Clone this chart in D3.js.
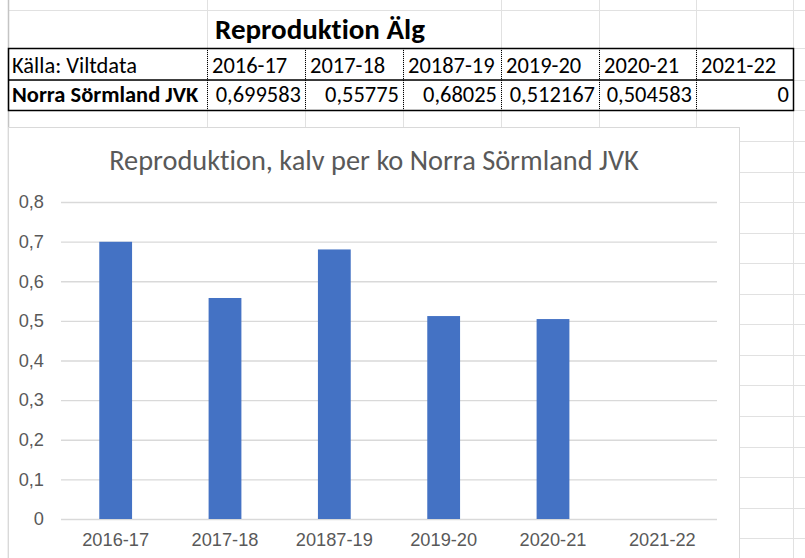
<!DOCTYPE html>
<html>
<head>
<meta charset="utf-8">
<script src="https://cdn.jsdelivr.net/npm/d3@7"></script>
<style>
  body { margin: 0; background: #fff; }
  svg { display: block; font-family: Calibri, Carlito, Lato, sans-serif; font-variant-ligatures: none; }
</style>
</head>
<body>
<svg width="805" height="558"></svg>
<script>
// data
const seasons = ["2016-17", "2017-18", "20187-19", "2019-20", "2020-21", "2021-22"];
const calfPerCow = [0.699583, 0.55775, 0.68025, 0.512167, 0.504583, 0];
const yTicks = [0, 0.1, 0.2, 0.3, 0.4, 0.5, 0.6, 0.7, 0.8];
const sheetTitle = "Reproduktion Älg";
const sourceLabel = "Källa: Viltdata";
const rowLabel = "Norra Sörmland JVK";
const chartTitle = "Reproduktion, kalv per ko Norra Sörmland JVK";

const svg = d3.select("svg");
const gridColor = "#e1e1e1";

// scale text so it spans the width it has in the screenshot
function fitWidth(sel, w) {
    const size = parseFloat(sel.attr("font-size"));
    const len = sel.node().getComputedTextLength();
    sel.attr("font-size", size * w / len);
    return size * w / len;
}

// spreadsheet background grid
const colEdges = [207, 305, 403, 501, 599, 696, 793];
const rowEdges = [10, 48, 80, 110];
for (let y = 141; y < 558; y += 30.55) rowEdges.push(Math.round(y));

svg.append("g").selectAll("line")
    .data(rowEdges)
    .join("line")
    .attr("x1", 8).attr("x2", 805)
    .attr("y1", d => d + 0.5).attr("y2", d => d + 0.5)
    .attr("stroke", gridColor);

// title overflows the cells at 305 and 403, so those lines start below it
svg.append("g").selectAll("line")
    .data(colEdges)
    .join("line")
    .attr("x1", d => d + 0.5).attr("x2", d => d + 0.5)
    .attr("y1", d => (d === 305 || d === 403) ? 48 : 0)
    .attr("y2", 558)
    .attr("stroke", gridColor);

svg.append("line")
    .attr("x1", 8.5).attr("x2", 8.5)
    .attr("y1", 0).attr("y2", 558)
    .attr("stroke", "#c4c4c4").attr("stroke-width", 1.5);

// sheet title
const titleT = svg.append("text")
    .attr("x", 215).attr("y", 39)
    .attr("font-size", 24).attr("font-weight", "bold")
    .attr("fill", "#000")
    .text(sheetTitle);
fitWidth(titleT, 210);

// table
const table = svg.append("g");
table.selectAll("line.sep")
    .data(colEdges.slice(0, -1))
    .join("line")
    .attr("class", "sep")
    .attr("x1", d => d + 0.5).attr("x2", d => d + 0.5)
    .attr("y1", 48).attr("y2", 110)
    .attr("stroke", "#000")
    .attr("stroke-dasharray", "1,1");
table.append("line")
    .attr("x1", 8).attr("x2", 793)
    .attr("y1", 80).attr("y2", 80)
    .attr("stroke", "#000").attr("stroke-width", 1.5);
table.append("rect")
    .attr("x", 8.5).attr("y", 48.5)
    .attr("width", 785).attr("height", 62)
    .attr("fill", "none")
    .attr("stroke", "#000").attr("stroke-width", 1.5);

const srcT = table.append("text")
    .attr("x", 12).attr("y", 73)
    .attr("font-size", 18)
    .text(sourceLabel);
const cellSize = fitWidth(srcT, 125);

table.selectAll("text.head")
    .data(seasons)
    .join("text")
    .attr("class", "head")
    .attr("x", (d, i) => colEdges[i] + 5)
    .attr("y", 73)
    .attr("font-size", cellSize)
    .text(d => d);

table.append("text")
    .attr("x", 12).attr("y", 102)
    .attr("font-size", cellSize).attr("font-weight", "bold")
    .text(rowLabel);

table.selectAll("text.val")
    .data(calfPerCow)
    .join("text")
    .attr("class", "val")
    .attr("x", (d, i) => colEdges[i + 1] - 4)
    .attr("y", 102)
    .attr("text-anchor", "end")
    .attr("font-size", cellSize)
    .text(d => String(d).replace(".", ","));

// chart object
svg.append("rect")
    .attr("x", 8.5).attr("y", 127.5)
    .attr("width", 731).attr("height", 440)
    .attr("fill", "#fff")
    .attr("stroke", "#d9d9d9");

const chartT = svg.append("text")
    .attr("x", 374).attr("y", 170)
    .attr("text-anchor", "middle")
    .attr("font-size", 24)
    .attr("fill", "#595959")
    .text(chartTitle);
fitWidth(chartT, 530);

const x = d3.scaleBand().domain(seasons).range([61, 717]);
const y = d3.scaleLinear().domain([0, 0.8]).range([519, 202]);
const fmt = d => d === 0 ? "0" : d3.format(".1f")(d).replace(".", ",");

// measure the axis font against the first category label
const probe = svg.append("text").attr("font-size", 18).text(seasons[0]);
const axisSize = fitWidth(probe, 61);
probe.remove();

const yAxis = svg.append("g")
    .attr("transform", "translate(61,0)")
    .call(d3.axisLeft(y).tickValues(yTicks).tickFormat(fmt).tickSize(-656).tickPadding(17));
yAxis.select(".domain").remove();
yAxis.selectAll(".tick line").attr("stroke", "#d9d9d9").attr("stroke-width", 1.3);
yAxis.selectAll(".tick text")
    .attr("fill", "#595959")
    .attr("font-size", axisSize)
    .attr("font-family", null);

const barW = x.bandwidth() * 0.3;
svg.append("g").selectAll("rect")
    .data(seasons.map((s, i) => ({ s, v: calfPerCow[i] })))
    .join("rect")
    .attr("x", d => x(d.s) + (x.bandwidth() - barW) / 2)
    .attr("y", d => y(d.v))
    .attr("width", barW)
    .attr("height", d => y(0) - y(d.v))
    .attr("fill", "#4472c4");

const xAxis = svg.append("g")
    .attr("transform", "translate(0,519)")
    .call(d3.axisBottom(x).tickSize(0).tickPadding(14));
xAxis.select(".domain").remove();
xAxis.selectAll(".tick text")
    .attr("fill", "#595959")
    .attr("font-size", axisSize)
    .attr("font-family", null);
</script>
</body>
</html>
